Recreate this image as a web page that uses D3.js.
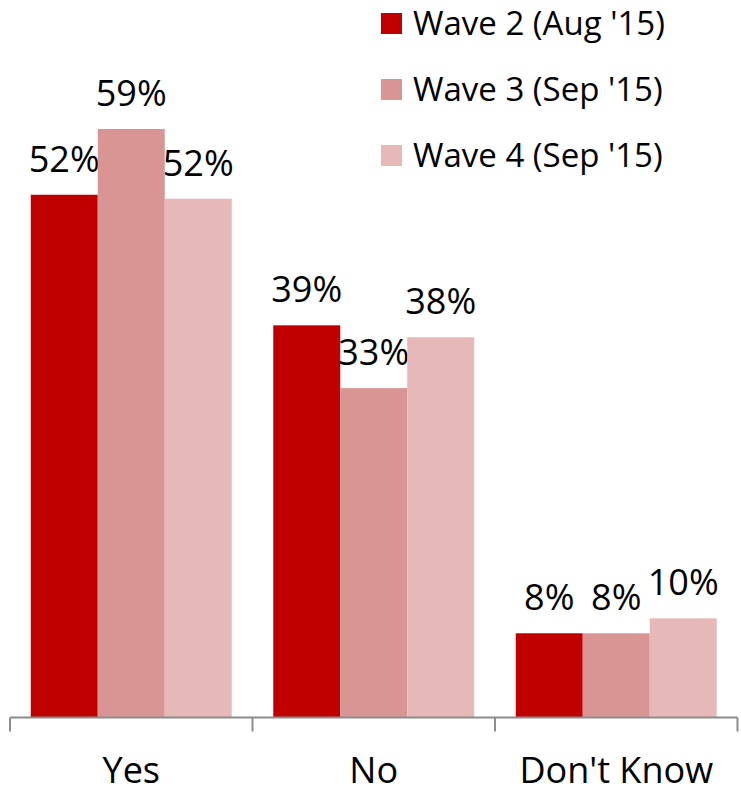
<!DOCTYPE html>
<html>
<head>
<meta charset="utf-8">
<script src="https://cdn.jsdelivr.net/npm/d3@7"></script>
<style>
  body { margin: 0; background: #fff; }
  text { font-family: "Open Sans", sans-serif; fill: #000; }
</style>
</head>
<body>
<div id="chart"></div>
<script>
// data
var categories = ["Yes", "No", "Don't Know"];
var seriesNames = ["Wave 2 (Aug '15)", "Wave 3 (Sep '15)", "Wave 4 (Sep '15)"];
var wave2 = [52.4, 39.3, 8.4];
var wave3 = [59.0, 33.0, 8.4];
var wave4 = [52.0, 38.1, 9.9];
var valueLabels = [["52%", "39%", "8%"], ["59%", "33%", "8%"], ["52%", "38%", "10%"]];
var colors = ["#C00000", "#D99594", "#E6B9B8"];

var series = [wave2, wave3, wave4];

var width = 741, height = 794;
var svg = d3.select("#chart")
    .append("svg")
    .attr("width", width)
    .attr("height", height);

var base = 717;

var xScale = d3.scaleBand()
    .domain(categories)
    .range([10, 737.5])
    .paddingInner(0)
    .paddingOuter(0);

var inner = d3.scaleBand()
    .domain(d3.range(series.length))
    .range([0, xScale.bandwidth()])
    .paddingInner(0)
    .paddingOuter(0.31);

var yScale = d3.scaleLinear()
    .domain([0, 60])
    .range([base, 119]);

// bars
series.forEach(function(vals, s) {
    svg.append("g")
        .selectAll("rect")
        .data(vals)
        .enter()
        .append("rect")
        .attr("x", (d, i) => xScale(categories[i]) + inner(s))
        .attr("y", d => yScale(d))
        .attr("width", inner.bandwidth())
        .attr("height", d => base - yScale(d))
        .attr("fill", colors[s]);

    svg.append("g")
        .selectAll("text")
        .data(vals)
        .enter()
        .append("text")
        .text((d, i) => valueLabels[s][i])
        .attr("x", (d, i) => xScale(categories[i]) + inner(s) + inner.bandwidth() / 2)
        .attr("y", d => yScale(d) - 23)
        .attr("font-size", "36px")
        .attr("text-anchor", "middle");
});

// category axis
var axis = svg.append("g")
    .attr("transform", "translate(0," + (base + 0.5) + ")");

axis.append("line")
    .attr("x1", xScale.range()[0]).attr("x2", xScale.range()[1])
    .attr("y1", 0).attr("y2", 0)
    .attr("stroke", "#8c8c8c")
    .attr("stroke-width", 2);

var bounds = categories.map(c => xScale(c)).concat([xScale.range()[1]]);
axis.selectAll(".sep")
    .data(bounds)
    .enter()
    .append("line")
    .attr("x1", d => d).attr("x2", d => d)
    .attr("y1", 0).attr("y2", 14)
    .attr("stroke", "#8c8c8c")
    .attr("stroke-width", 2);

svg.append("g")
    .selectAll("text")
    .data(categories)
    .enter()
    .append("text")
    .text(d => d)
    .attr("x", d => xScale(d) + xScale.bandwidth() / 2)
    .attr("y", 783)
    .attr("font-size", "36px")
    .attr("text-anchor", "middle");

// legend
var legend = svg.append("g");
seriesNames.forEach(function(name, i) {
    var y = 35 + i * 66;
    legend.append("rect")
        .attr("x", 381).attr("y", y - 22)
        .attr("width", 21).attr("height", 21)
        .attr("fill", colors[i]);
    legend.append("text")
        .attr("x", 413).attr("y", y)
        .attr("font-size", "33px")
        .text(name);
});
</script>
</body>
</html>
